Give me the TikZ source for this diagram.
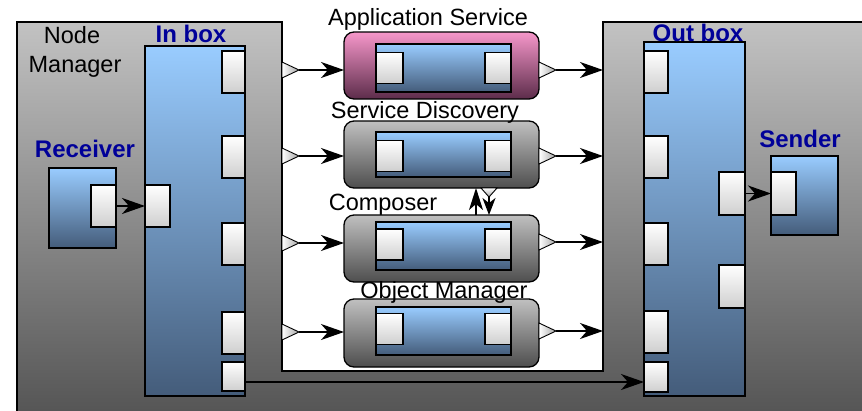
\documentclass[tikz,border=0pt]{standalone}
\usepackage{fontspec}
\setmainfont{Liberation Sans}
\usetikzlibrary{arrows.meta,calc}
\definecolor{lblue}{HTML}{99CCFF}
\definecolor{dblue}{HTML}{445C7A}
\definecolor{navy}{HTML}{000099}
\definecolor{gtop}{HTML}{C2C2C2}
\definecolor{gbot}{HTML}{555555}
\definecolor{ptop}{HTML}{F697CA}
\definecolor{pbot}{HTML}{5C2C4A}
\definecolor{stop}{HTML}{C0C0C0}
\definecolor{sbot}{HTML}{4E4E4E}

\tikzset{
  every node/.style={inner sep=0pt, outer sep=0pt},
  bluebox/.style={rectangle, draw, line width=2.2pt, top color=lblue, bottom color=dblue},
  port/.style={rectangle, draw, line width=1.6pt, top color=white, bottom color=gray!38},
  svc/.style={rectangle, draw, line width=1.3pt, rounded corners=10pt,
              minimum width=195pt, minimum height=67pt},
  svcgray/.style={svc, top color=stop, bottom color=sbot},
  svcpink/.style={svc, top color=ptop, bottom color=pbot},
  innerbar/.style={bluebox, line width=2pt, minimum width=135pt, minimum height=48pt},
  lport/.style={port, minimum width=27pt, minimum height=31pt},
  rport/.style={port, minimum width=26pt, minimum height=31pt},
  arr/.style={line width=1.4pt, -{Stealth[length=23pt,width=16pt,inset=7pt]}},
  lbl/.style={font=\fontsize{23.5}{27}\selectfont, anchor=base},
  blbl/.style={font=\fontsize{24}{27}\selectfont\bfseries, anchor=base, text=navy},
  tri/.style={draw=black, line width=0.9pt, left color=white, right color=gray!70},
  trid/.style={draw=black, line width=0.9pt, top color=white, bottom color=gray!70},
}

\begin{document}
\begin{tikzpicture}[x=1pt,y=-1pt]
\useasboundingbox (0,0) rectangle (862,410);

% Node Manager frame, open channel in the middle for the services
\draw[line width=1.5pt, top color=gtop, bottom color=gbot]
  (17,414) -- (17,22) -- (282,22) -- (282,371) -- (603,371) -- (603,22)
  -- (866,22) -- (866,414) -- cycle;
\coordinate (edgeR) at (603,0);

\node[lbl] (nm1) at (72,43) {Node};
\node[lbl] (nm2) at (75,72) {Manager};

% In box and receiver
\node[bluebox, minimum width=100pt, minimum height=350pt] (inbox) at (195,221) {};
\node[blbl] (inlbl) at (191,42) {In box};
\node[bluebox, minimum width=67pt, minimum height=80pt] (recv) at (82.5,208) {};
\node[blbl] (recvlbl) at (85,157) {Receiver};

% Out box and sender
\node[bluebox, minimum width=101pt, minimum height=354pt] (outbox) at (694.5,219) {};
\node[blbl] (outlbl) at (698,41) {Out box};
\node[bluebox, minimum width=67pt, minimum height=79pt] (send) at (804.5,195.5) {};
\node[blbl] (sendlbl) at (800,147) {Sender};

% ports of the in box
\node[port, minimum width=23pt, minimum height=42pt] (inp1) at (233.5,72) {};
\node[port, minimum width=23pt, minimum height=42pt] (inp2) at (233.5,157) {};
\node[port, minimum width=23pt, minimum height=42pt] (inp3) at (233.5,244) {};
\node[port, minimum width=23pt, minimum height=42pt] (inp4) at (233.5,333) {};
\node[port, minimum width=23pt, minimum height=29pt] (inp5) at (233.5,376.5) {};
\node[port, minimum width=25pt, minimum height=42pt] (inl) at (157.5,206) {};
\node[port, minimum width=25pt, minimum height=42pt] (recp) at (103.5,206) {};

% ports of the out box
\node[port, minimum width=24pt, minimum height=42pt] (outp1) at (656,72) {};
\node[port, minimum width=24pt, minimum height=42pt] (outp2) at (656,157) {};
\node[port, minimum width=24pt, minimum height=42pt] (outp3) at (656,244) {};
\node[port, minimum width=24pt, minimum height=42pt] (outp4) at (656,332) {};
\node[port, minimum width=24pt, minimum height=30pt] (outp5) at (656,377) {};
\node[port, minimum width=26pt, minimum height=43pt] (outr1) at (732,193.5) {};
\node[port, minimum width=26pt, minimum height=43pt] (outr2) at (732,286.5) {};
\node[port, minimum width=25pt, minimum height=43pt] (sendp) at (783.5,193.5) {};

% services
\node[svcpink] (app) at (441.5,65.5) {};
\node[innerbar] (appin) at (443.5,68) {};
\node[lport] (appl) at (389.5,68) {};
\node[rport] (appr) at (498,68) {};
\node[lbl] (applbl) at (428,25) {Application Service};

\node[svcgray] (sd) at (441.5,154.5) {};
\node[innerbar, minimum height=45pt] (sdin) at (443.5,154.5) {};
\node[lport] (sdl) at (389.5,156) {};
\node[rport] (sdr) at (498,156) {};
\node[lbl] (sdlbl) at (425,118) {Service Discovery};

\node[svcgray] (comp) at (441.5,248.5) {};
\node[innerbar] (compin) at (443.5,246) {};
\node[lport] (compl) at (389.5,244.5) {};
\node[rport] (compr) at (498,244.5) {};
\node[lbl] (complbl) at (383,210) {Composer};

\node[svcgray, minimum height=68pt] (om) at (441.5,333) {};
\node[innerbar] (omin) at (443.5,331) {};
\node[lport] (oml) at (389.5,329) {};
\node[rport] (omr) at (498,329) {};
\node[lbl] (omlbl) at (444,298) {Object Manager};

% outgoing triangles of the frame and the services
\foreach \y/\n in {70/a,156/b,243/c,332/d} {
  \draw[tri] (282,\y-8) -- (299,\y) -- (282,\y+8) -- cycle;
  \coordinate (tin\n) at (299,\y);
}
\foreach \y/\n in {70/a,156/b,242/c,331/d} {
  \draw[tri] (539,\y-8) -- (556,\y) -- (539,\y+8) -- cycle;
  \coordinate (tout\n) at (556,\y);
}

% connectors into the services
\draw[arr] (tina) -- (tina -| app.west);
\draw[arr] (tinb) -- (tinb -| sd.west);
\draw[arr] (tinc) -- (tinc -| comp.west);
\draw[arr] (tind) -- (tind -| om.west);

% connectors out of the services
\draw[arr] (touta) -- (touta -| edgeR);
\draw[arr] (toutb) -- (toutb -| edgeR);
\draw[arr] (toutc) -- (toutc -| edgeR);
\draw[arr] (toutd) -- (toutd -| edgeR);

% link between Service Discovery and Composer
\coordinate (ux) at (476,0);
\draw[arr, -{Stealth[length=22pt,width=14pt,inset=6pt]}] (ux |- comp.north) -- (ux |- sd.south);
\draw[trid] (481,188) -- (497,188) -- (489,197) -- cycle;
\coordinate (dtip) at (489,197);
\draw[arr, -{Stealth[length=17pt,width=13pt,inset=5pt]}] (dtip) -- (dtip |- comp.north);

% receiver, sender and the bypass line
\draw[arr] (recp.east) -- (inl.west);
\draw[arr] (outr1.east) -- (sendp.west);
\coordinate (bl) at (0,382);
\draw[arr] (inp5.east |- bl) -- (outp5.west |- bl);
\end{tikzpicture}
\end{document}
